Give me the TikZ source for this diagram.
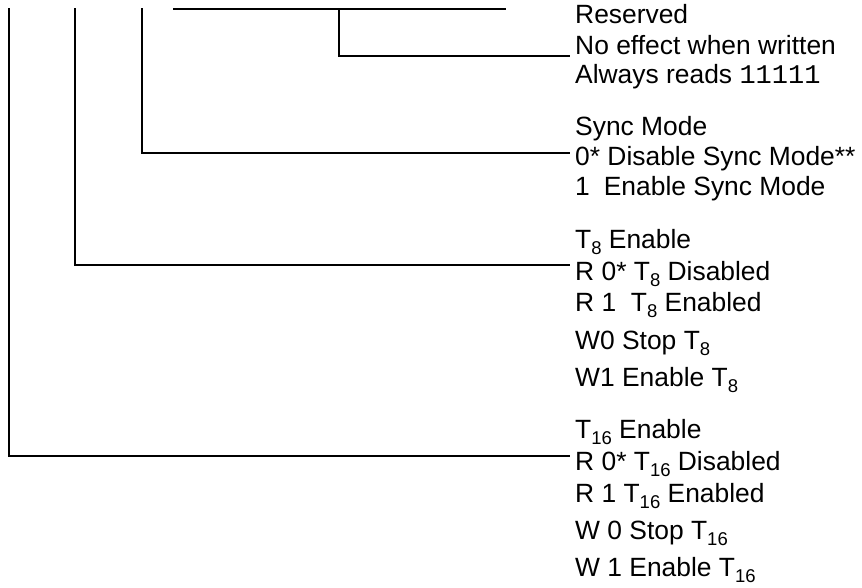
\documentclass[tikz,border=0pt]{standalone}
\usepackage{fontspec}
\setmainfont{Liberation Sans}
\setmonofont{Liberation Mono}
\newcommand\sbs[1]{\raisebox{-6.5pt}{\fontsize{18.5pt}{18.5pt}\selectfont #1}}
\begin{document}
\begin{tikzpicture}[x=1pt,y=-1pt,
  txt/.style={anchor=base west, inner sep=0pt, font=\fontsize{26.4pt}{30pt}\selectfont},
  wire/.style={line width=1.2pt, line cap=rect}]
\useasboundingbox (0,0) rectangle (862,588);
% text column
\def\tx{575}
\node[txt] (res1) at (\tx,24) {Reserved};
\node[txt] (res2) at (\tx,55) {No effect when written};
\node[txt] (res3) at (\tx,84) {Always reads {\ttfamily\fontsize{27pt}{30pt}\selectfont 11111}};
\node[txt] (syn1) at (\tx,136) {Sync Mode};
\node[txt] (syn2) at (\tx,166) {0* Disable Sync Mode**};
\node[txt] (syn3) at (\tx,196) {1\hspace{14pt}Enable Sync Mode};
\node[txt] (te1) at (\tx,248) {T\sbs{8} Enable};
\node[txt] (te2) at (\tx,280) {R 0* T\sbs{8} Disabled};
\node[txt] (te3) at (\tx,311) {R 1\ \ T\sbs{8} Enabled};
\node[txt] (te4) at (\tx,349) {W0 Stop T\sbs{8}};
\node[txt] (te5) at (\tx,386) {W1 Enable T\sbs{8}};
\node[txt] (ts1) at (\tx,438) {T\sbs{16} Enable};
\node[txt] (ts2) at (\tx,470) {R 0* T\sbs{16} Disabled};
\node[txt] (ts3) at (\tx,502) {R 1 T\sbs{16} Enabled};
\node[txt] (ts4) at (\tx,539) {W 0 Stop T\sbs{16}};
\node[txt] (ts5) at (\tx,576) {W 1 Enable T\sbs{16}};
% connector points
\coordinate (tl) at (174,9);
\coordinate (tr) at (505,9);
\coordinate (vr) at (339,9);
\coordinate (er) at (569,56);
\coordinate (vs) at (142,9);
\coordinate (es) at (569,153);
\coordinate (v8) at (75,9);
\coordinate (e8) at (569,265);
\coordinate (v16) at (9,9);
\coordinate (e16) at (569,456);
\draw[wire] (tl) -- (tr);
\draw[wire] (vr) |- (er);
\draw[wire] (vs) |- (es);
\draw[wire] (v8) |- (e8);
\draw[wire] (v16) |- (e16);
\end{tikzpicture}
\end{document}
